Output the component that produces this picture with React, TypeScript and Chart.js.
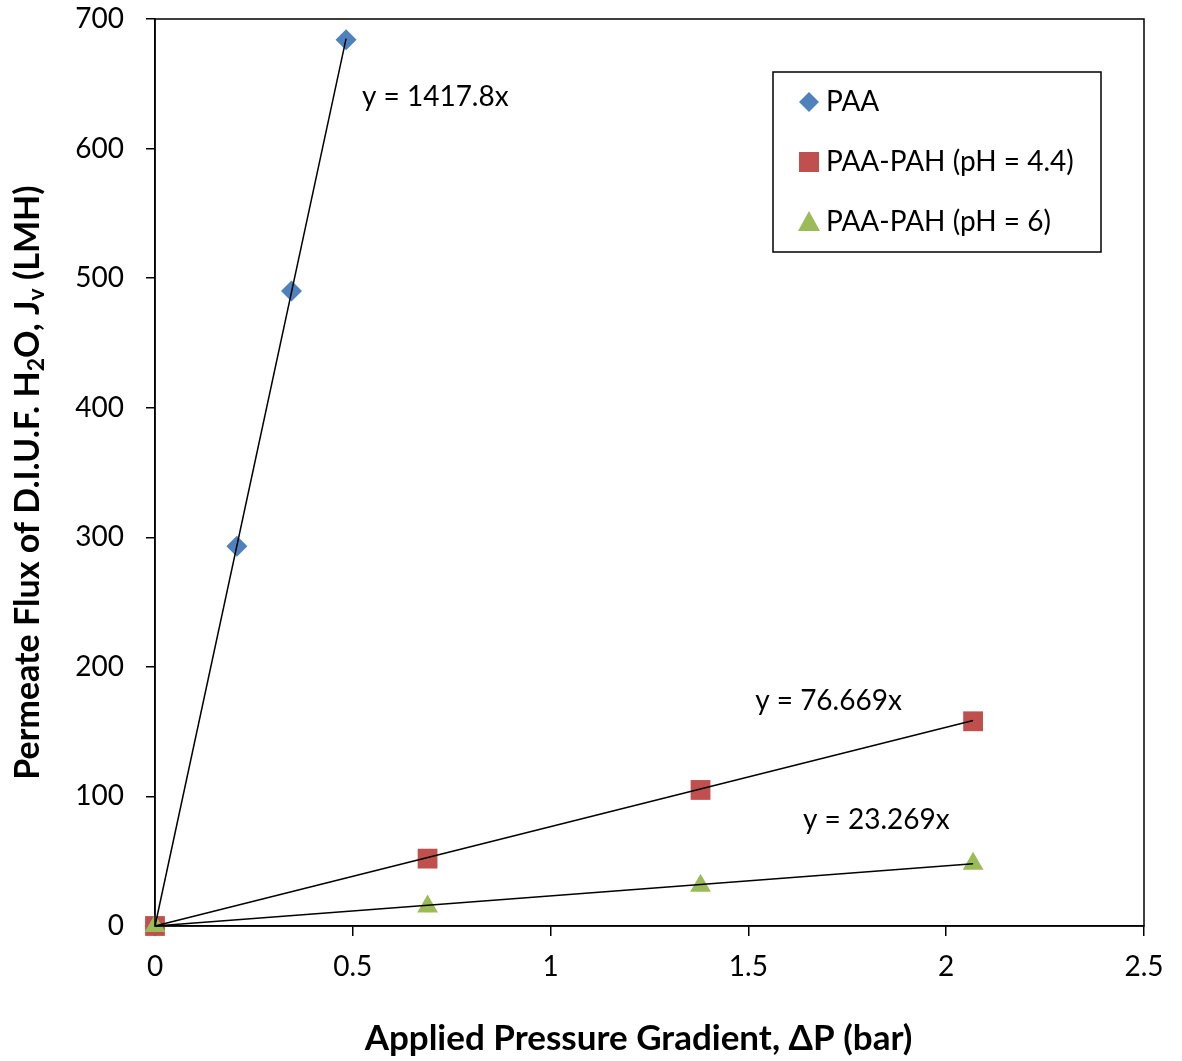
import React, { useEffect, useRef } from "react";
import { Chart, registerables } from "chart.js";

Chart.register(...registerables);

const seriesNames = ["PAA", "PAA-PAH (pH = 4.4)", "PAA-PAH (pH = 6)"];
const paaX = [0, 0.207, 0.345, 0.483];
const paaY = [0, 293, 490, 684];
const ph44X = [0, 0.689, 1.379, 2.068];
const ph44Y = [0, 52, 105, 158];
const ph6X = [0, 0.689, 1.379, 2.068];
const ph6Y = [0, 15, 31, 48];
const slopes = [1417.8, 76.669, 23.269];
const equationLabels = ["y = 1417.8x", "y = 76.669x", "y = 23.269x"];
const xTicks = [0, 0.5, 1, 1.5, 2, 2.5];
const yTicks = [0, 100, 200, 300, 400, 500, 600, 700];
const xTitle = "Applied Pressure Gradient, ΔP (bar)";

const colors = ["#4F81BD", "#C0504D", "#9BBB59"];
const markers = ["rectRot", "rect", "triangle"];
const FONT = "Lato, 'Liberation Sans', sans-serif";

const pts = (xs: number[], ys: number[]) => xs.map((x, i) => ({ x, y: ys[i] }));
const trend = (xs: number[], k: number) => {
  const xm = Math.max(...xs);
  return [{ x: 0, y: 0 }, { x: xm, y: k * xm }];
};

const overlayPlugin = {
  id: "overlay",
  afterDraw(chart: any) {
    const { ctx, chartArea: a, scales } = chart;
    ctx.save();
    // frame
    ctx.strokeStyle = "#000";
    ctx.lineWidth = 1.5;
    ctx.strokeRect(a.left, a.top, a.right - a.left, a.bottom - a.top);

    // equation labels
    ctx.fillStyle = "#000";
    ctx.font = `28px ${FONT}`;
    ctx.textBaseline = "middle";
    ctx.textAlign = "left";
    const eqPos = [
      { x: 0.523, y: 640 },
      { x: 1.517, y: 174 },
      { x: 1.638, y: 82 },
    ];
    equationLabels.forEach((t, i) => {
      ctx.fillText(t, scales.x.getPixelForValue(eqPos[i].x), scales.y.getPixelForValue(eqPos[i].y));
    });

    // legend
    const lx = 773, ly = 72, lw = 328, lh = 180;
    ctx.fillStyle = "#fff";
    ctx.fillRect(lx, ly, lw, lh);
    ctx.strokeStyle = "#000";
    ctx.lineWidth = 1.5;
    ctx.strokeRect(lx, ly, lw, lh);
    seriesNames.forEach((name, i) => {
      const cy = 102 + i * 60;
      const cx = 809;
      ctx.fillStyle = colors[i];
      ctx.beginPath();
      if (i === 0) {
        ctx.moveTo(cx, cy - 10); ctx.lineTo(cx + 10, cy); ctx.lineTo(cx, cy + 10); ctx.lineTo(cx - 10, cy);
      } else if (i === 1) {
        ctx.rect(cx - 10, cy - 10, 20, 20);
      } else {
        ctx.moveTo(cx, cy - 11); ctx.lineTo(cx + 11, cy + 9); ctx.lineTo(cx - 11, cy + 9);
      }
      ctx.closePath();
      ctx.fill();
      ctx.fillStyle = "#000";
      ctx.font = `28px ${FONT}`;
      ctx.textAlign = "left";
      ctx.textBaseline = "middle";
      ctx.fillText(name, 826, cy);
    });

    // x axis title
    ctx.font = `bold 35px ${FONT}`;
    ctx.textAlign = "center";
    ctx.textBaseline = "middle";
    ctx.fillStyle = "#000";
    ctx.fillText(xTitle, (a.left + a.right) / 2 - 11, 1039);

    // y axis title with subscripts
    const parts: [string, boolean][] = [
      ["Permeate Flux of D.I.U.F. H", false],
      ["2", true],
      ["O, J", false],
      ["v", true],
      [" (LMH)", false],
    ];
    const big = `bold 34px ${FONT}`;
    const small = `bold 23px ${FONT}`;
    let total = 0;
    parts.forEach(([t, s]) => {
      ctx.font = s ? small : big;
      total += ctx.measureText(t).width;
    });
    ctx.translate(28, (a.top + a.bottom) / 2 + 10);
    ctx.rotate(-Math.PI / 2);
    let x = -total / 2;
    ctx.textAlign = "left";
    ctx.textBaseline = "middle";
    ctx.fillStyle = "#000";
    parts.forEach(([t, s]) => {
      ctx.font = s ? small : big;
      ctx.fillText(t, x, s ? 9 : 0);
      x += ctx.measureText(t).width;
    });
    ctx.restore();
  },
};

export default function App() {
  const ref = useRef<HTMLCanvasElement>(null);
  useEffect(() => {
    document.body.style.margin = "0";
    const sets = [paaX, ph44X, ph6X];
    const trendSets = sets.map((xs, i) => ({
      type: "line" as const,
      label: "trend" + i,
      data: trend(xs, slopes[i]),
      borderColor: "#000",
      borderWidth: 1.5,
      pointRadius: 0,
      showLine: true,
      fill: false,
      clip: false,
    }));
    const scatter = (xs: number[], ys: number[], i: number, r: number) => ({
      type: "scatter" as const,
      label: seriesNames[i],
      data: pts(xs, ys),
      backgroundColor: colors[i],
      borderColor: colors[i],
      borderWidth: 0,
      pointStyle: markers[i],
      pointRadius: r,
      clip: false,
    });
    const chart = new Chart(ref.current!, {
      type: "scatter",
      data: {
        datasets: [
          ...trendSets,
          scatter(ph6X, ph6Y, 2, 12),
          scatter(ph44X, ph44Y, 1, 14),
          scatter(paaX, paaY, 0, 10.5),
        ] as any,
      },
      options: {
        responsive: false,
        animation: false,
        layout: { padding: { left: 0, right: 38, top: 19, bottom: 0 } },
        plugins: { legend: { display: false }, tooltip: { enabled: false } },
        scales: {
          x: {
            type: "linear",
            min: 0,
            max: 2.5,
            afterBuildTicks: (s: any) => { s.ticks = xTicks.map((v) => ({ value: v })); },
            afterFit: (s: any) => { s.height = 1061 - 926; },
            border: { display: true, color: "#000", width: 1.5 },
            grid: { drawOnChartArea: false, drawTicks: true, tickLength: 10, color: "#000", lineWidth: 1.5 },
            ticks: {
              color: "#000",
              font: { family: FONT, size: 28 },
              padding: 14,
              maxRotation: 0,
              callback: (v: any) => String(v),
            },
          },
          y: {
            type: "linear",
            min: 0,
            max: 700,
            afterBuildTicks: (s: any) => { s.ticks = yTicks.map((v) => ({ value: v })); },
            afterFit: (s: any) => { s.width = 155; s.paddingTop = 0; s.paddingBottom = 0; },
            border: { display: true, color: "#000", width: 1.5 },
            grid: { drawOnChartArea: false, drawTicks: true, tickLength: 9, color: "#000", lineWidth: 1.5 },
            ticks: { color: "#000", font: { family: FONT, size: 28 }, padding: 22, callback: (v: any) => String(v) },
          },
        },
      } as any,
      plugins: [overlayPlugin],
    });
    return () => chart.destroy();
  }, []);
  return <canvas ref={ref} width={1182} height={1061} style={{ display: "block" }} />;
}
